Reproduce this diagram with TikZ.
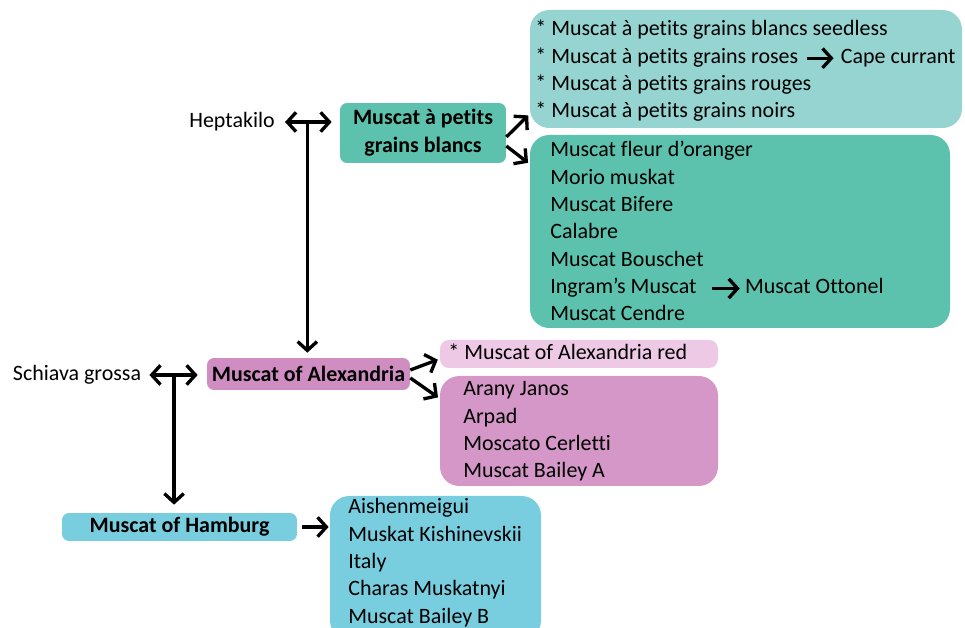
\documentclass[tikz,border=0pt]{standalone}
\usepackage{fontspec}
\setmainfont{Carlito}[Ligatures=CommonOff]
\usetikzlibrary{arrows.meta, positioning, fit, calc}
\definecolor{tealmain}{RGB}{92,194,173}
\definecolor{teallight}{RGB}{149,212,209}
\definecolor{pinkmain}{RGB}{212,151,199}
\definecolor{pinkhead}{RGB}{207,141,194}
\definecolor{pinklight}{RGB}{238,201,229}
\definecolor{cyanmain}{RGB}{120,206,223}
\tikzset{
    head/.style={rectangle, rounded corners=4pt, align=center, inner sep=0pt, font=\fontsize{12.5}{15.9}\selectfont\bfseries},
    listbox/.style={rectangle, rounded corners=11pt, inner sep=0pt},
    item/.style={inner sep=0pt, anchor=base west, text height=10.5pt, text depth=4.65pt, font=\fontsize{12.5}{15}\selectfont},
    plain/.style={inner sep=0pt, font=\fontsize{12.5}{15}\selectfont},
    conn/.style={line width=1.9pt, -{Straight Barb[length=5pt,width=11pt]}},
    dconn/.style={line width=1.9pt, {Straight Barb[length=5pt,width=11pt]}-{Straight Barb[length=5pt,width=11pt]}}
}
\begin{document}
\begin{tikzpicture}[x=0.02cm, y=-0.02cm]
    \useasboundingbox (0,0) rectangle (965,628);

    % main varieties
    \node[head, fill=tealmain, minimum width=3.32cm, minimum height=1.2cm] (blancs) at (423,133) {Muscat à petits\\grains blancs};
    \node[head, fill=pinkhead, minimum width=4.06cm, minimum height=0.64cm] (alex) at (308.5,374) {Muscat of Alexandria};
    \node[head, fill=cyanmain, minimum width=4.7cm, minimum height=0.56cm] (hamburg) at (179.5,527) {Muscat of Hamburg};

    \node[plain] (hepta) at (232,122) {Heptakilo};
    \node[plain] (schiava) at (77,375) {Schiava grossa};

    % list boxes
    \node[listbox, fill=teallight, fit={(530,10) (962,128)}] (mutants) {};
    \node[listbox, fill=tealmain, fit={(530,135) (950,328)}] (blancsoff) {};
    \node[listbox, rounded corners=5pt, fill=pinklight, fit={(440,340) (718,368)}] (alexred) {};
    \node[listbox, fill=pinkmain, fit={(440,376) (718,486)}] (alexoff) {};
    \node[listbox, fill=cyanmain, fit={(330,496) (541,640)}] (hamoff) {};

    % mutants of blancs
    \node[item] (m1) at (535,36) {* Muscat à petits grains blancs seedless};
    \node[item] (m2) [below=0pt of m1.south west, anchor=north west] {* Muscat à petits grains roses};
    \node[item] (m3) [below=0pt of m2.south west, anchor=north west] {* Muscat à petits grains rouges};
    \node[item] (m4) [below=0pt of m3.south west, anchor=north west] {* Muscat à petits grains noirs};
    \node[item] (cape) [right=0.84cm of m2.east, anchor=west] {Cape currant};

    % offspring of blancs
    \node[item] (b1) at (550,157) {Muscat fleur d’oranger};
    \node[item] (b2) [below=0pt of b1.south west, anchor=north west] {Morio muskat};
    \node[item] (b3) [below=0pt of b2.south west, anchor=north west] {Muscat Bifere};
    \node[item] (b4) [below=0pt of b3.south west, anchor=north west] {Calabre};
    \node[item] (b5) [below=0pt of b4.south west, anchor=north west] {Muscat Bouschet};
    \node[item] (b6) [below=0pt of b5.south west, anchor=north west] {Ingram’s Muscat};
    \node[item] (b7) [below=0pt of b6.south west, anchor=north west] {Muscat Cendre};
    \node[item] (ottonel) [right=0.96cm of b6.east, anchor=west] {Muscat Ottonel};

    % alexandria
    \node[item] (a0) at (448,360) {* Muscat of Alexandria red};
    \node[item] (a1) at (463,396) {Arany Janos};
    \node[item] (a2) [below=0pt of a1.south west, anchor=north west] {Arpad};
    \node[item] (a3) [below=0pt of a2.south west, anchor=north west] {Moscato Cerletti};
    \node[item] (a4) [below=0pt of a3.south west, anchor=north west] {Muscat Bailey A};

    % hamburg
    \node[item] (h1) at (348,514) {Aishenmeigui};
    \node[item] (h2) [below=0pt of h1.south west, anchor=north west] {Muskat Kishinevskii};
    \node[item] (h3) [below=0pt of h2.south west, anchor=north west] {Italy};
    \node[item] (h4) [below=0pt of h3.south west, anchor=north west] {Charas Muskatnyi};
    \node[item] (h5) [below=0pt of h4.south west, anchor=north west] {Muscat Bailey B};

    % parentage
    \coordinate (hj) at ($(hepta.east)!0.5!(blancs.west)$);
    \coordinate (sj) at ($(schiava.east)!0.5!(alex.west)$);
    \draw[dconn, shorten <=0.2cm, shorten >=0.16cm] (hepta.east) -- (hepta.east -| blancs.west);
    \draw[conn, shorten >=0.1cm] (hj |- hepta.east) -- (hj |- alex.north);
    \draw[dconn, shorten <=0.16cm, shorten >=0.18cm] (schiava.east) -- (schiava.east -| alex.west);
    \draw[conn, shorten >=0.16cm] (sj |- schiava.east) -- (sj |- hamburg.north);

    % descendants
    \draw[conn, shorten >=0.04cm] ([yshift=-0.08cm]blancs.east) -- ([yshift=-0.9cm]mutants.west);
    \draw[conn, shorten >=0.04cm] ([yshift=-0.26cm]blancs.east) -- ([yshift=1.35cm]blancsoff.west);
    \draw[conn, shorten >=0.04cm] ([yshift=0.08cm]alex.east) -- ([yshift=-0.1cm]alexred.west);
    \draw[conn, shorten >=0.04cm] ([yshift=-0.08cm]alex.east) -- ([yshift=0.65cm]alexoff.west);
    \draw[conn, shorten <=0.1cm, shorten >=0.02cm] (hamburg.east) -- (hamburg.east -| hamoff.west);

    % inline
    \draw[conn, shorten <=0.16cm, shorten >=0.14cm] (m2) -- (cape);
    \draw[conn, shorten <=0.3cm, shorten >=0.1cm] (b6) -- (ottonel);
\end{tikzpicture}
\end{document}
